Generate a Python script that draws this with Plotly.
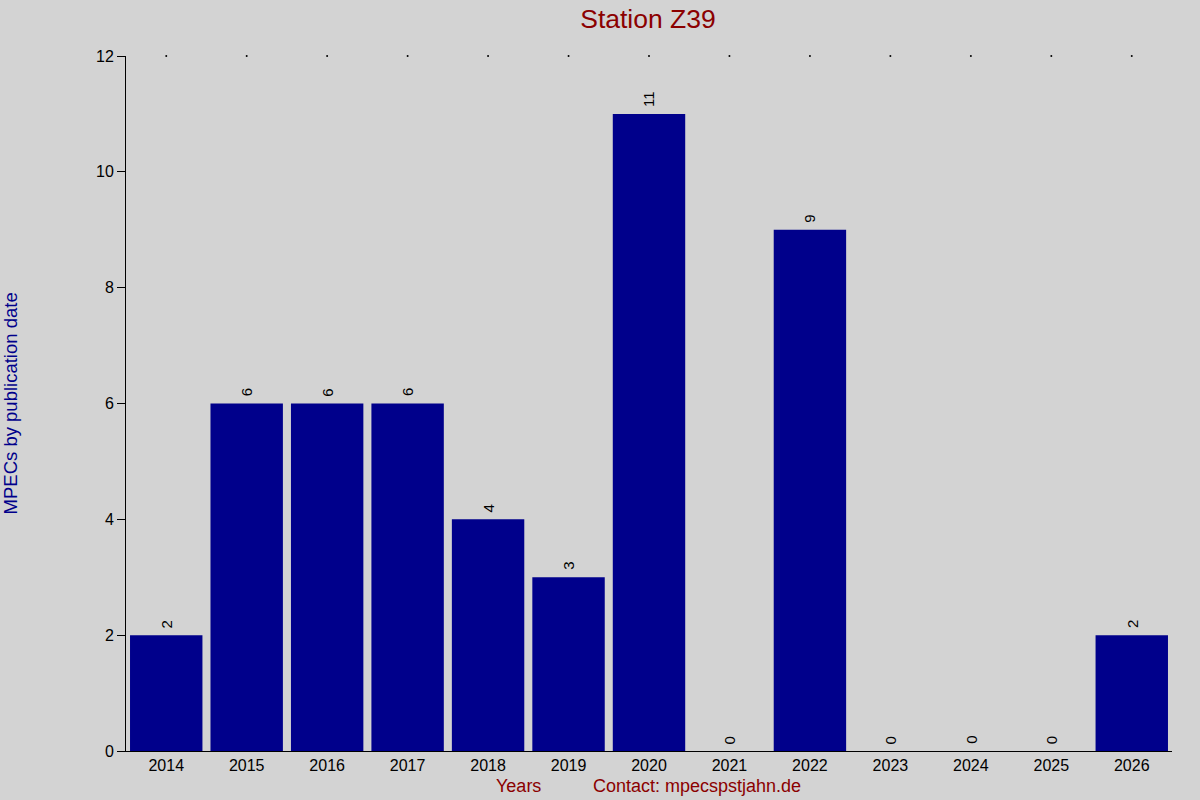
import plotly.graph_objects as go

# Jahre und Anzahl der MPECs
years = ["2014", "2015", "2016", "2017", "2018", "2019", "2020",
         "2021", "2022", "2023", "2024", "2025", "2026"]
counts = [2, 6, 6, 6, 4, 3, 11, 0, 9, 0, 0, 0, 2]
y_ticks = [0, 2, 4, 6, 8, 10, 12]

fig = go.Figure()

fig.add_trace(go.Bar(
    x=years,
    y=counts,
    marker_color="#00008B",
    marker_line_width=0,
    width=0.9,
    hoverinfo="x+y",
))

# kleine Punkte am oberen Rand
fig.add_trace(go.Scatter(
    x=years,
    y=[y_ticks[-1]] * len(years),
    mode="markers",
    marker=dict(size=2, color="black"),
    hoverinfo="skip",
    cliponaxis=False,
))

# Werte über den Balken, gedreht (x als Kategorie-Index)
for i, c in enumerate(counts):
    fig.add_annotation(x=i, y=c, text=str(c), textangle=-90, showarrow=False,
                       xanchor="center", yanchor="bottom", yshift=5,
                       font=dict(size=15, color="black"))

fig.update_layout(
    width=1200,
    height=800,
    paper_bgcolor="#D3D3D3",
    plot_bgcolor="#D3D3D3",
    showlegend=False,
    font=dict(family="Liberation Sans, Arial", size=16, color="black"),
    margin=dict(l=126, r=28, t=56, b=49),
    title=dict(text="Station Z39", x=0.54, xanchor="center", y=0.977, yanchor="middle",
               font=dict(size=26.5, color="#8B0000")),
    bargap=0.1,
)

fig.update_xaxes(
    type="category",
    range=[-0.5, len(years) - 0.5],
    showline=True, linecolor="black", linewidth=1,
    showgrid=False, ticks="", tickfont=dict(size=16),
    zeroline=False,
)

fig.update_yaxes(
    range=[0, 12],
    tickvals=y_ticks,
    showline=True, linecolor="black", linewidth=1,
    showgrid=False, ticks="outside", ticklen=8, tickcolor="black",
    tickfont=dict(size=16), zeroline=False,
)

fig.add_annotation(text="MPECs by publication date", xref="paper", yref="paper",
                   x=-0.11, y=0.5, textangle=-90, showarrow=False,
                   font=dict(size=18.5, color="#00008B"), xanchor="center")
fig.add_annotation(text="Years", xref="paper", yref="paper",
                   x=0.375, y=-0.05, showarrow=False, yanchor="middle",
                   font=dict(size=18, color="#8B0000"))
fig.add_annotation(text="Contact: mpecspstjahn.de", xref="paper", yref="paper",
                   x=0.546, y=-0.05, showarrow=False, yanchor="middle",
                   font=dict(size=18, color="#8B0000"))

# Seitenrand entfernen, damit die Grafik bei 0,0 beginnt
fig.write_html("out.html", config={"displayModeBar": False},
               post_script="document.body.style.margin='0';")
